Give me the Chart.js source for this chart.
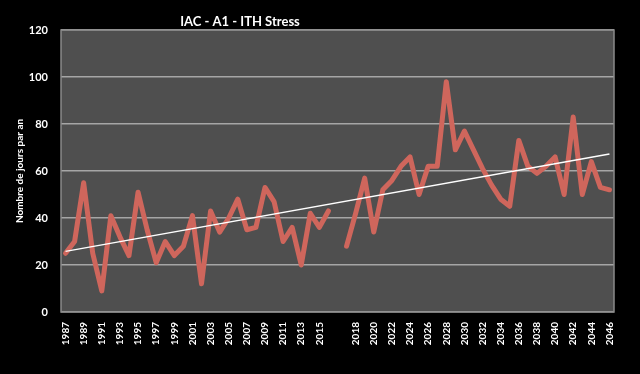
<!DOCTYPE html>
<html>
<head>
<meta charset="utf-8">
<script src="https://cdn.jsdelivr.net/npm/chart.js@4"></script>
<style>
  html, body { margin: 0; padding: 0; background: #000; }
  #wrap { width: 640px; height: 374px; position: relative; }
</style>
</head>
<body>
<div id="wrap"><canvas id="ithChart"></canvas></div>
<script>
// années (catégorie vide entre 2016 et 2017, comme dans le graphique d'origine)
const years = [
  "1987","1988","1989","1990","1991","1992","1993","1994","1995","1996",
  "1997","1998","1999","2000","2001","2002","2003","2004","2005","2006",
  "2007","2008","2009","2010","2011","2012","2013","2014","2015","2016",
  "",
  "2017","2018","2019","2020","2021","2022","2023","2024","2025","2026",
  "2027","2028","2029","2030","2031","2032","2033","2034","2035","2036",
  "2037","2038","2039","2040","2041","2042","2043","2044","2045","2046"
];

// nombre de jours de stress par an
const stressDays = [
  25, 30, 55, 25, 9, 41, 32, 24, 51, 35,
  21, 30, 24, 28, 41, 12, 43, 34, 40, 48,
  35, 36, 53, 47, 30, 36, 20, 42, 36, 43,
  null,
  28, 42, 57, 34, 52, 56, 62, 66, 50, 62,
  62, 98, 69, 77, 69, 61, 54, 48, 45, 73,
  62, 59, 62, 66, 50, 83, 50, 64, 53, 52
];

// tendance linéaire (extrémités)
const trendYears = ["1987", "2046"];
const trendValues = [25.8, 67.2];

const yTicks = [0, 20, 40, 60, 80, 100, 120];

const FONT = "Lato, 'Liberation Sans', sans-serif";

// fond gris de la zone de tracé + titre
const plotBg = {
  id: "plotBg",
  beforeDraw(chart) {
    const { ctx, chartArea: a } = chart;
    ctx.save();
    ctx.fillStyle = "#000";
    ctx.fillRect(0, 0, chart.width, chart.height);
    ctx.fillStyle = "#4f4f4f";
    ctx.fillRect(a.left, a.top, a.right - a.left, a.bottom - a.top);
    ctx.restore();
  },
  afterDraw(chart) {
    const { ctx, chartArea: a } = chart;
    ctx.save();
    ctx.strokeStyle = "#8a8a8a";
    ctx.lineWidth = 1.5;
    ctx.strokeRect(a.left, a.top, a.right - a.left, a.bottom - a.top);
    ctx.fillStyle = "#fff";
    ctx.font = "bold 13px " + FONT;
    ctx.textAlign = "center";
    ctx.textBaseline = "middle";
    ctx.fillText("IAC - A1 - ITH Stress", 240, 22);
    ctx.restore();
  }
};

new Chart(document.getElementById("ithChart"), {
  type: "line",
  data: {
    labels: years,
    datasets: [
      {
        label: "ITH Stress",
        data: stressDays,
        borderColor: "#cf665c",
        borderWidth: 5,
        pointRadius: 0,
        tension: 0,
        spanGaps: false,
        borderJoinStyle: "round",
        borderCapStyle: "round",
        order: 2
      },
      {
        label: "Tendance",
        data: trendYears.map((y, i) => ({ x: y, y: trendValues[i] })),
        borderColor: "#ffffff",
        borderWidth: 1.5,
        pointRadius: 0,
        order: 1
      }
    ]
  },
  options: {
    responsive: true,
    maintainAspectRatio: false,
    animation: false,
    layout: { padding: { top: 30, right: 26, left: 0, bottom: 0 } },
    plugins: {
      legend: { display: false },
      tooltip: { enabled: false }
    },
    scales: {
      x: {
        offset: true,
        grid: { display: false, drawTicks: false },
        border: { display: false },
        ticks: {
          autoSkip: false,
          maxRotation: 90,
          minRotation: 90,
          padding: 10,
          color: "#fff",
          font: { family: FONT, size: 10, weight: "bold" },
          callback: function (val, idx) {
            return idx % 2 === 0 ? this.getLabelForValue(val) : "";
          }
        },
        afterFit(scale) { scale.height = 62; }
      },
      y: {
        min: 0,
        max: 120,
        afterBuildTicks(scale) { scale.ticks = yTicks.map(v => ({ value: v })); },
        grid: { color: "#a6a6a6", lineWidth: 1.5, drawTicks: false },
        border: { display: false },
        ticks: {
          padding: 13,
          color: "#fff",
          font: { family: FONT, size: 11, weight: "bold" }
        },
        title: {
          display: true,
          text: "Nombre de jours par an",
          color: "#fff",
          padding: { top: 14, bottom: 0 },
          font: { family: FONT, size: 10, weight: "bold" }
        },
        afterFit(scale) { scale.width = 61; }
      }
    }
  },
  plugins: [plotBg]
});
</script>
</body>
</html>
